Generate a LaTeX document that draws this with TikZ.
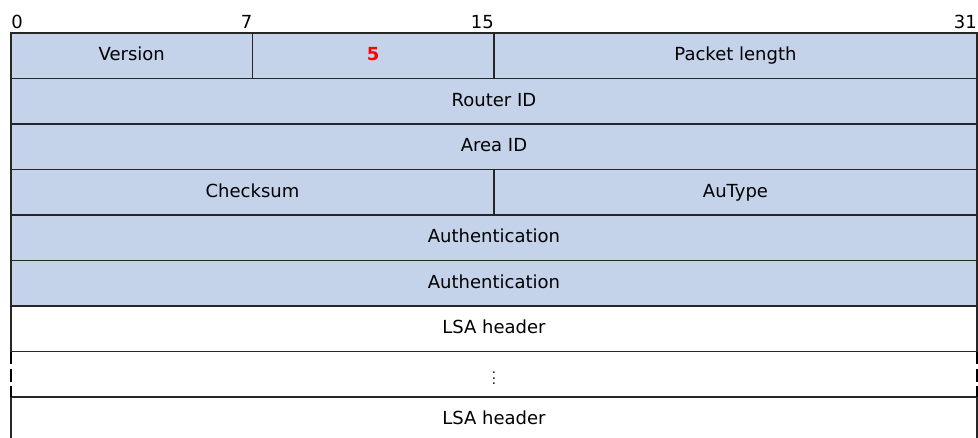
\documentclass[tikz,border=0pt]{standalone}
\usepackage{fontspec}
\setmainfont{DejaVu Sans}
\usetikzlibrary{positioning}
\definecolor{cHdr} {HTML}{C4D2EA}
\definecolor{cLine}{HTML}{262626}
\definecolor{cFive}{HTML}{FF0000}
\tikzset{
  fld/.style  ={draw=cLine,line width=1.3pt,anchor=north west,inner sep=0pt,
                outer sep=0pt,minimum height=34.125pt,text height=10pt,
                text depth=2.8pt,font=\fontsize{13.5}{16}\selectfont},
  hdr/.style  ={fld,fill=cHdr},
  bitno/.style={font=\fontsize{13.5}{16}\selectfont,inner xsep=0pt,inner ysep=3pt},
  brk/.style  ={draw=black,line width=2.2pt,
                dash pattern=on 9pt off 3.75pt on 9.75pt off 3pt},
}

\begin{document}
\begin{tikzpicture}[x=0.75pt,y=-0.75pt,
  wide/.style={minimum width=32*\bw},
  half/.style={minimum width=16*\bw},
  byte/.style={minimum width=8*\bw},
]
\def\bw{22.64pt}   % one bit of the 32-bit row
\useasboundingbox (0,0) rectangle (978,437);
\clip (0,0) rectangle (978,437);

% ===== first word ========================================================
\node[hdr,byte] (ver)  at (11,33) {Version};
\node[hdr,byte] (five) at (ver.north east) {\textcolor{cFive}{\textbf{5}}};
\node[hdr,half] (len)  at (five.north east) {Packet length};

% ===== bit numbers =======================================================
\node[bitno,anchor=south west] (b0)  at (ver.north west)  {0};
\node[bitno,anchor=south east] (b7)  at (ver.north east)  {7};
\node[bitno,anchor=south east] (b15) at (five.north east) {15};
\node[bitno,anchor=south east] (b31) at (len.north east)  {31};

% ===== rest of the header ================================================
\node[hdr,wide] (rid) at (ver.south west) {Router ID};
\node[hdr,wide] (aid) at (rid.south west) {Area ID};
\node[hdr,half] (cks) at (aid.south west) {Checksum};
\node[hdr,half] (aut) at (cks.north east) {AuType};
\node[hdr,wide] (au1) at (cks.south west) {Authentication};
\node[hdr,wide] (au2) at (au1.south west) {Authentication};

% ===== LSA headers =======================================================
\node[fld,wide] (lsa1) at (au2.south west) {LSA header};
\node[fld,wide,draw=none,text height=,text depth=] (dots) at (lsa1.south west)
  {\fontsize{10}{12}\selectfont$\vdots$};
\node[fld,wide] (lsa2) at (dots.south west) {LSA header};
\draw[brk] (dots.north west) -- (dots.south west);
\draw[brk] (dots.north east) -- (dots.south east);
\end{tikzpicture}
\end{document}
